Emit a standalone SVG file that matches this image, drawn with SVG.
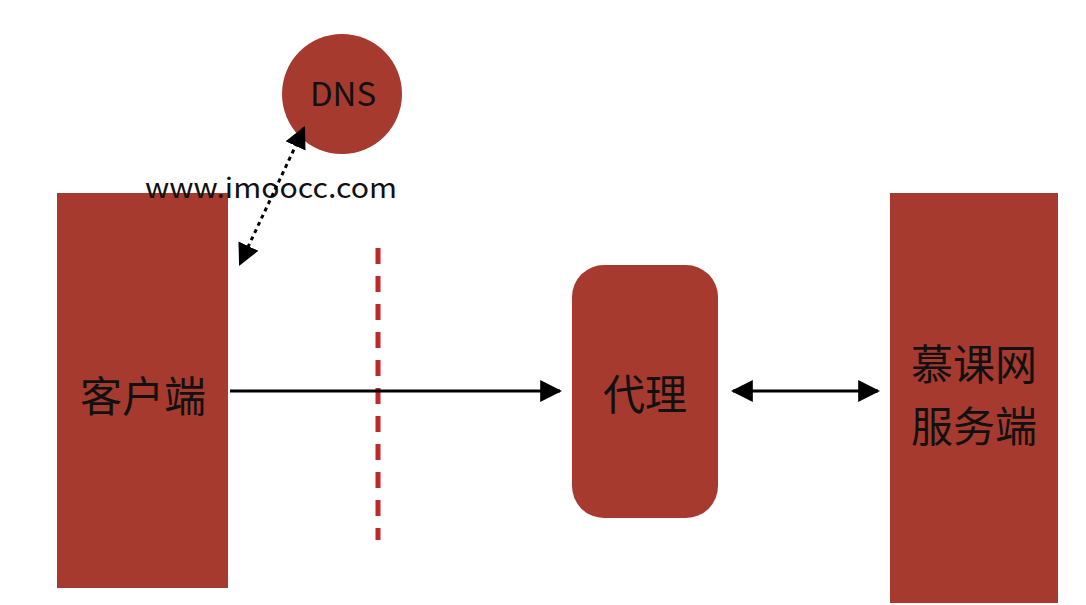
<svg xmlns="http://www.w3.org/2000/svg" width="1086" height="605" viewBox="0 0 1086 605">
<style>
.n{fill:#a63a2e}
.t{font-family:"Noto Sans CJK SC","Liberation Sans",sans-serif;fill:#111;text-anchor:middle}
.c{stroke:#000;stroke-width:3;fill:none}
</style>
<defs>
<marker id="b" viewBox="0 0 10 10" refX="9" refY="5" markerWidth="22" markerHeight="22" markerUnits="userSpaceOnUse" orient="auto-start-reverse"><path d="M0,0L10,5L0,10z" fill="#000"/></marker>
</defs>
<rect width="1086" height="605" fill="#fff"/>
<g id="dns"><circle class="n" cx="342" cy="94" r="60"/><text class="t" x="343" y="106" font-size="33">DNS</text></g>
<g id="client"><rect class="n" x="57" y="193" width="171" height="395"/><text class="t" x="143" y="412" font-size="42">客户端</text></g>
<g id="proxy"><rect class="n" x="572" y="265" width="146" height="253" rx="32"/><text class="t" x="645" y="410" font-size="42">代理</text></g>
<g id="server"><rect class="n" x="890" y="193" width="168" height="410"/><text class="t" x="974" y="380" font-size="42">慕课网</text><text class="t" x="974" y="442" font-size="42">服务端</text></g>
<text class="t" x="271" y="198" font-size="28" textLength="252" lengthAdjust="spacingAndGlyphs">www.imoocc.com</text>
<g id="connectors">
<line x1="378" y1="248" x2="378" y2="540" stroke="#c0282a" stroke-width="5" stroke-dasharray="16 12"/>
<line class="c" x1="304" y1="128" x2="240" y2="264" stroke-dasharray="4 4" stroke-width="5" marker-start="url(#b)" marker-end="url(#b)"/>
<line class="c" x1="230" y1="391" x2="560" y2="391" marker-end="url(#b)"/>
<line class="c" x1="733" y1="391" x2="878" y2="391" marker-start="url(#b)" marker-end="url(#b)"/>
</g>
</svg>
